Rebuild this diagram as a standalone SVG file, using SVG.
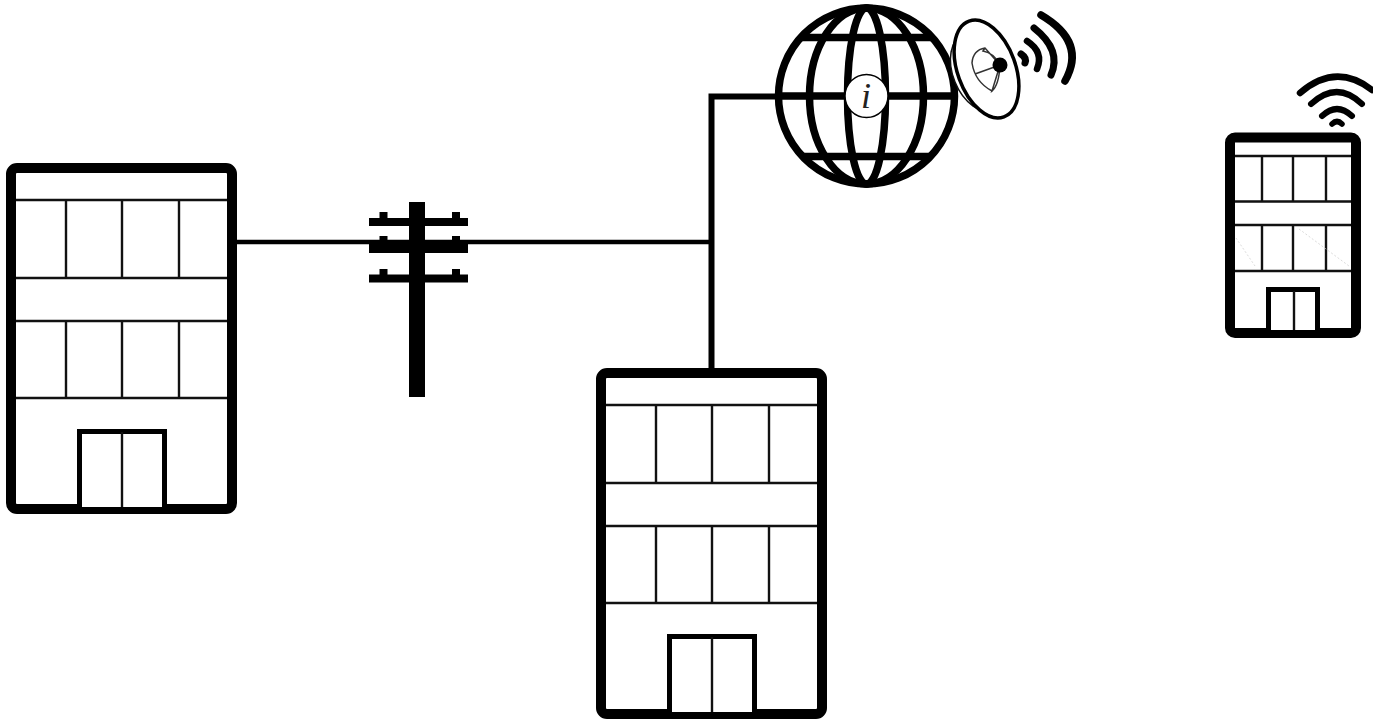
<svg xmlns="http://www.w3.org/2000/svg" width="1373" height="720" viewBox="0 0 1373 720">
<style>
.k{fill:none;stroke:#000;stroke-linecap:butt}
.bo{fill:#fff;stroke:#000;stroke-width:10}
.th{fill:none;stroke:#111;stroke-width:2.400}
.dr{fill:#fff;stroke:#000;stroke-width:5}
.g{fill:none;stroke:#000;stroke-width:7.500}
.w{fill:none;stroke:#000;stroke-linecap:round}
.p{fill:#000}
</style>
<defs>
<g id="bld">
<rect class="bo" x="11" y="168" width="221" height="341" rx="6"/>
<path class="th" d="M16 200H227M16 278H227M16 321H227M16 398H227M66 200V278M122 200V278M179 200V278M66 321V398M122 321V398M179 321V398"/>
<path class="dr" d="M79.500 507V431.500H164.500V507"/>
<path fill="#fff" d="M82 503H162V507H82Z"/>
<path class="th" d="M122 432V507"/>
</g>
</defs>
<rect width="1373" height="720" fill="#fff"/>
<g id="connectors">
<path class="k" stroke-width="4.500" d="M235 242H711"/>
<path class="k" stroke-width="6" d="M711.500 370V96.500H780"/>
</g>
<g id="building-left"><use href="#bld"/></g>
<g id="building-bottom"><use href="#bld" transform="translate(590 205)"/></g>
<g id="pole">
<rect class="p" x="409" y="202" width="16" height="195"/>
<rect class="p" x="369" y="218" width="99" height="8"/>
<rect class="p" x="369" y="241" width="99" height="12"/>
<rect class="p" x="369" y="274.500" width="99" height="8"/>
<rect class="p" x="379.500" y="212" width="8" height="7"/>
<rect class="p" x="452" y="212" width="8" height="7"/>
<rect class="p" x="379.500" y="236" width="8" height="6"/>
<rect class="p" x="452" y="236" width="8" height="6"/>
<rect class="p" x="379.500" y="269" width="8" height="6"/>
<rect class="p" x="452" y="269" width="8" height="6"/>
</g>
<g id="globe">
<circle class="g" cx="866.500" cy="96" r="88"/>
<ellipse class="g" cx="866.500" cy="96" rx="19" ry="88"/>
<ellipse class="g" cx="866.500" cy="96" rx="57" ry="88"/>
<path class="g" d="M802 37.500H931M778 96H952M802 156.500H931"/>
<circle cx="866.500" cy="96" r="21.500" fill="#fff" stroke="#000" stroke-width="1.500"/>
<text x="866" y="108" text-anchor="middle" font-family="'Liberation Serif',serif" font-style="italic" font-size="36" fill="#222">i</text>
</g>
<g id="dish">
<ellipse cx="979" cy="72" rx="26" ry="41" transform="rotate(-22 979 72)" fill="#fff" stroke="#111" stroke-width="1.500"/>
<ellipse cx="986.500" cy="69" rx="29" ry="51" transform="rotate(-20 986.500 69)" fill="#fff" stroke="#000" stroke-width="3.500"/>
<path fill="none" stroke="#333" stroke-width="1.500" d="M1000 65L985 48Q973 50 972 63Q975 82 992 91L1000 65L975 74M985 48L983 51Q994 53 1000 65L992 91Q999 85 1000 65"/>
<circle class="p" cx="1000" cy="65" r="7.500"/>
<path class="w" stroke-width="7" d="M1021 54Q1027 58 1025 63"/>
<path class="w" stroke-width="6.500" d="M1027 41Q1044 52 1037 69"/>
<path class="w" stroke-width="7" d="M1034 28Q1062 50 1051 75"/>
<path class="w" stroke-width="7.500" d="M1041 15Q1087 42 1065 81"/>
</g>
<g id="building-right">
<rect class="bo" x="1230" y="137.500" width="126" height="195.500" rx="5"/>
<path class="th" d="M1235 156H1351M1235 201.500H1351M1235 225H1351M1235 271H1351M1262 156V201.500M1293 156V201.500M1326 156V201.500M1262 225V271M1293 225V271M1326 225V271"/>
<path class="dr" d="M1268.500 330V289.500H1317.500V330"/>
<path fill="#fff" d="M1271 328H1315V330H1271Z"/>
<path class="th" d="M1294 291V330"/>
<path fill="none" stroke="#ccc" stroke-width="0.700" stroke-dasharray="2 2" d="M1236 238L1255 266M1299 229L1349 266"/>
<g id="wifi">
<path class="w" stroke-width="5.500" d="M1332 124Q1337 119 1342 124"/>
<path class="w" stroke-width="6" d="M1322 116Q1337 102 1352 116"/>
<path class="w" stroke-width="6" d="M1311 104Q1337 80 1362 104"/>
<path class="w" stroke-width="6.500" d="M1300 93Q1336 62 1372 90"/>
</g>
</g>
</svg>
